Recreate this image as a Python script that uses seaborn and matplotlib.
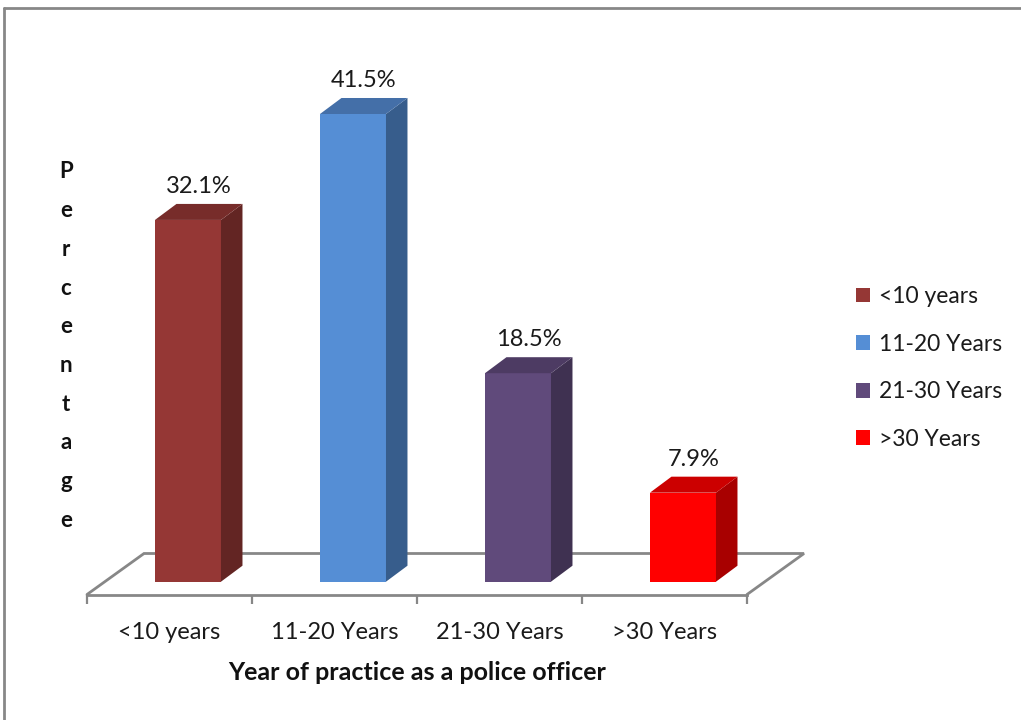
import matplotlib
matplotlib.use("Agg")
import matplotlib.pyplot as plt
from matplotlib.patches import Polygon, Patch
from matplotlib.lines import Line2D
import seaborn as sns

# Share of respondents by years of service
categories = ["<10 years", "11-20 Years", "21-30 Years", ">30 Years"]
values = [32.1, 41.5, 18.5, 7.9]
legend_labels = ["<10 years", "11-20 Years", "21-30 Years", ">30 Years"]

# Face colours of each column: front, right side, top
front_colors = ["#953735", "#558ED5", "#604A7B", "#FF0000"]
side_colors = ["#632523", "#375D8C", "#3F3151", "#A80000"]
top_colors = ["#772C2A", "#446FA8", "#4D3B63", "#CC0000"]

x_title = "Year of practice as a police officer"
y_title = "Percentage"

sns.set_theme(style="white")
plt.rcParams["font.family"] = ["Lato", "DejaVu Sans"]

W, H = 1021, 720
fig = plt.figure(figsize=(W / 100, H / 100), dpi=100)
fig.patch.set_facecolor("white")

# Axes span the front edge of the floor
ax_left, ax_right = 87, 747
ax_bottom, ax_top = 594.5, 60
ax = fig.add_axes([ax_left / W, 1 - ax_bottom / H,
                   (ax_right - ax_left) / W, (ax_bottom - ax_top) / H])

px_per_unit = 165.0
px_per_pct = 11.27
x_shift = 0.112
xlim = (-0.5 - x_shift, 3.5 - x_shift)
ymin = -(ax_bottom - 581.7) / px_per_pct
ymax = ymin + (ax_bottom - ax_top) / px_per_pct

sns.barplot(x=categories, y=values, hue=categories, order=categories,
            hue_order=categories, palette=front_colors, saturation=1,
            width=0.4, legend=False, ax=ax, zorder=2,
            linewidth=0, edgecolor="none")

ax.set_xlim(*xlim)
ax.set_ylim(ymin, ymax)

# Oblique depth of each column and of the floor
dx = 21.5 / px_per_unit
dy = 16.0 / px_per_pct
fdx = 57.0 / px_per_unit
fdy = 41.0 / px_per_pct

grey = "#878787"

for patch, sc, tc, v in zip(ax.patches, side_colors, top_colors, values):
    x = patch.get_x()
    w = patch.get_width()
    h = patch.get_height()
    side = Polygon([(x + w, 0), (x + w + dx, dy), (x + w + dx, h + dy), (x + w, h)],
                   closed=True, facecolor=sc, edgecolor="none", zorder=2, clip_on=False)
    top = Polygon([(x, h), (x + dx, h + dy), (x + w + dx, h + dy), (x + w, h)],
                  closed=True, facecolor=tc, edgecolor="none", zorder=2, clip_on=False)
    ax.add_patch(side)
    ax.add_patch(top)
    ax.annotate(f"{v}%", xy=(x + w / 2 + dx / 2, h + dy), xytext=(0, 5),
                textcoords="offset points", ha="center", va="bottom",
                fontsize=17, color="#1a1a1a", zorder=4, annotation_clip=False)

# Floor outline (front edge is the bottom spine)
x0, x1 = xlim
ax.plot([x0, x0 + fdx, x1 + fdx, x1], [ymin, ymin + fdy, ymin + fdy, ymin],
        color=grey, lw=2, zorder=1, clip_on=False, solid_joinstyle="miter")

for s in ["left", "right", "top"]:
    ax.spines[s].set_visible(False)
ax.spines["bottom"].set_color(grey)
ax.spines["bottom"].set_linewidth(2)

boundaries = [x0 + i for i in range(5)]
centers = [x0 + 0.5 + i for i in range(4)]
ax.set_xticks(boundaries)
ax.set_xticklabels([])
ax.set_xticks(centers, minor=True)
ax.set_xticklabels(categories, minor=True)
ax.tick_params(axis="x", which="major", length=6.5, width=1.6, color=grey,
               direction="out", bottom=True)
ax.tick_params(axis="x", which="minor", length=0, pad=19.5, labelsize=17,
               labelcolor="#1a1a1a", bottom=True)
ax.set_yticks([])
ax.set_ylabel("")
ax.set_xlabel(x_title, fontsize=18, fontweight="bold", color="#111111",
              labelpad=13.5)
ax.set_facecolor("none")

# Vertical stacked axis title
for i, ch in enumerate(y_title):
    fig.text(66 / W, 1 - (172 + 38.7 * i) / H, ch, ha="center", va="center",
             fontsize=16, fontweight="bold", color="#111111")

# Legend
handles = [Patch(facecolor=c, edgecolor="none", label=l)
           for c, l in zip(front_colors, legend_labels)]
fig.legend(handles=handles, loc="center left",
           bbox_to_anchor=(855.7 / W, 1 - 368 / H),
           bbox_transform=fig.transFigure, frameon=False, fontsize=16.5,
           handlelength=0.62, handleheight=0.62, handletextpad=0.4,
           labelspacing=1.16, borderpad=0, borderaxespad=0,
           labelcolor="#1a1a1a")

# Chart frame
fig.add_artist(Line2D([3.5 / W, 1], [1 - 7.5 / H, 1 - 7.5 / H], color=grey,
                      lw=2, transform=fig.transFigure))
fig.add_artist(Line2D([3.5 / W, 3.5 / W], [0, 1 - 7.5 / H], color=grey,
                      lw=2, transform=fig.transFigure))

fig.savefig("out.png", dpi=100, facecolor="white")
